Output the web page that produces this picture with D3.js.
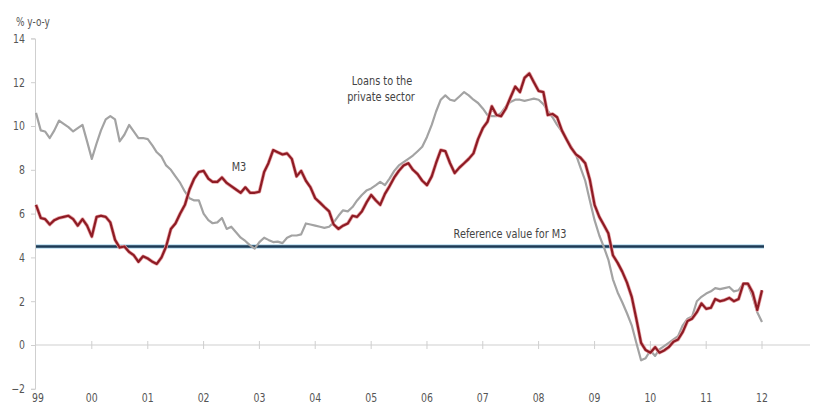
<!DOCTYPE html>
<html>
<head>
<meta charset="utf-8">
<script src="https://cdn.jsdelivr.net/npm/d3@7/dist/d3.min.js"></script>
<style>
  html, body { margin: 0; padding: 0; background: #fff; }
  svg text { font-family: "DejaVu Sans", "Liberation Sans", sans-serif; }
</style>
</head>
<body>
<svg id="chart" width="813" height="410"></svg>
<script>
// Monthly series, January 1999 – January 2012 (% y-o-y)
const startYear = 1999;
const m3Values = [
  6.4, 5.8, 5.75, 5.5, 5.7, 5.8, 5.85, 5.9, 5.75, 5.45, 5.75, 5.45,
  4.95, 5.85, 5.9, 5.85, 5.6, 4.8, 4.45, 4.5, 4.25, 4.1, 3.8, 4.05,
  3.95, 3.8, 3.7, 4.0, 4.5, 5.3, 5.55, 6.0, 6.4, 7.1, 7.6, 7.9,
  7.95, 7.6, 7.45, 7.45, 7.65, 7.4, 7.25, 7.1, 6.95, 7.2, 6.95, 6.95,
  7.0, 7.9, 8.3, 8.9, 8.8, 8.7, 8.75, 8.5, 7.7, 7.95, 7.5, 7.2,
  6.7, 6.5, 6.3, 6.1, 5.5, 5.3, 5.45, 5.55, 5.9, 5.85, 6.1, 6.5,
  6.85, 6.6, 6.4, 6.9, 7.25, 7.65, 7.95, 8.2, 8.3, 8.0, 7.8, 7.5,
  7.3, 7.7, 8.3, 8.9, 8.85, 8.3, 7.85, 8.1, 8.3, 8.5, 8.75, 9.4,
  9.9, 10.2, 10.9, 10.5, 10.45, 10.8, 11.3, 11.8, 11.55, 12.2, 12.4, 12.0,
  11.6, 11.55, 10.5, 10.55, 10.4, 9.8, 9.4, 9.0, 8.7, 8.55, 8.3, 7.55,
  6.4, 5.85, 5.5, 5.1, 4.1, 3.75, 3.35, 2.85, 2.2, 1.2, 0.1, -0.23,
  -0.35, -0.1, -0.35, -0.25, -0.1, 0.15, 0.25, 0.6, 1.1, 1.2, 1.5, 1.9,
  1.65, 1.7, 2.1, 2.0, 2.05, 2.15, 2.0, 2.1, 2.8, 2.8, 2.4, 1.6,
  2.5
];
const loanValues = [
  10.6, 9.8, 9.75, 9.45, 9.8, 10.25, 10.1, 9.95, 9.75, 9.9, 10.05, 9.3,
  8.5, 9.2, 9.8, 10.3, 10.45, 10.3, 9.3, 9.6, 10.05, 9.75, 9.45, 9.45,
  9.4, 9.1, 8.8, 8.6, 8.2, 8.0, 7.7, 7.4, 7.0, 6.7, 6.6, 6.6,
  6.0, 5.7, 5.56, 5.6, 5.8, 5.3, 5.4, 5.15, 4.9, 4.75, 4.55, 4.4,
  4.7, 4.9, 4.8, 4.7, 4.72, 4.65, 4.9, 5.0, 5.0, 5.05, 5.55, 5.5,
  5.45, 5.4, 5.35, 5.4, 5.6, 5.9, 6.15, 6.1, 6.3, 6.6, 6.85, 7.05,
  7.15, 7.3, 7.45, 7.3, 7.6, 7.95, 8.2, 8.35, 8.5, 8.65, 8.85, 9.05,
  9.5, 10.05, 10.65, 11.2, 11.4, 11.2, 11.15, 11.35, 11.55, 11.4, 11.2, 11.05,
  10.8, 10.5, 10.45, 10.45, 10.6, 10.9, 11.1, 11.2, 11.2, 11.15, 11.2, 11.25,
  11.2, 11.0, 10.7, 10.4, 10.05, 9.75, 9.4, 9.05, 8.7, 8.1, 7.5, 6.6,
  5.7, 5.0, 4.5, 3.9, 3.0, 2.4, 1.95, 1.45, 0.9, 0.1, -0.7, -0.6,
  -0.25, -0.5, -0.2, -0.05, 0.1, 0.25, 0.4, 0.9, 1.2, 1.3, 2.0, 2.2,
  2.35, 2.45, 2.6, 2.55, 2.6, 2.65, 2.45, 2.5, 2.8, 2.75, 2.2, 1.5,
  1.05
];
const referenceValue = 4.5;
const yearLabels = ["99", "00", "01", "02", "03", "04", "05", "06", "07", "08", "09", "10", "11", "12"];
const yTicks = [-2, 0, 2, 4, 6, 8, 10, 12, 14];

const svg = d3.select("#chart");

// Narrow lettering: regular glyphs squeezed horizontally
const squeeze = 0.78;
function label(parent, px, py, str, opts = {}) {
  return parent.append("text")
    .attr("transform", `translate(${px},${py}) scale(${squeeze},1)`)
    .attr("text-anchor", opts.anchor || "middle")
    .attr("fill", opts.fill || "#555")
    .attr("font-size", opts.size || 12)
    .text(str);
}

const monthDate = i => new Date(startYear, i, 1);
const x = d3.scaleTime()
  .domain([new Date(1999, 0, 1), new Date(2012, 0, 1)])
  .range([36, 762]);
const y = d3.scaleLinear().domain([-2, 14]).range([388.8, 38.4]);

const axisColor = "#cfcfcf";
const textColor = "#555";

// Y axis (ticks to the left, labels right-aligned)
const yAxis = svg.append("g")
  .attr("transform", "translate(35,0)")
  .call(d3.axisLeft(y).tickValues(yTicks).tickSize(4).tickFormat(d3.format("d")));
yAxis.select(".domain").attr("stroke", axisColor);
yAxis.selectAll(".tick line").attr("stroke", axisColor);
yAxis.selectAll(".tick text")
  .attr("x", 0)
  .attr("transform", `translate(-10,0) scale(${squeeze},1)`)
  .attr("fill", textColor)
  .attr("font-size", 12);

label(svg, 16, 26, "% y-o-y", { anchor: "start", size: 11.5 });

// Zero line with year ticks crossing it
const years = d3.range(startYear, startYear + yearLabels.length).map(yr => new Date(yr, 0, 1));
const zeroAxis = svg.append("g")
  .attr("transform", `translate(0,${y(0)})`);
zeroAxis.append("line")
  .attr("x1", 35).attr("x2", 810)
  .attr("stroke", axisColor);
zeroAxis.selectAll("line.tk")
  .data(years.slice(1))
  .join("line")
  .attr("class", "tk")
  .attr("x1", d => x(d)).attr("x2", d => x(d))
  .attr("y1", -4).attr("y2", 4)
  .attr("stroke", axisColor);

// Year labels along the bottom
const xLabels = svg.append("g");
years.forEach((d, i) => {
  label(xLabels, x(d) + (i === 0 ? 2 : 0), 402, yearLabels[i], { size: 12 });
});

// Reference value line
svg.append("line")
  .attr("x1", x(monthDate(0))).attr("x2", x(monthDate(m3Values.length - 1)) + 2)
  .attr("y1", y(referenceValue)).attr("y2", y(referenceValue))
  .attr("stroke", "#b9dcef").attr("stroke-width", 4.5);
svg.append("line")
  .attr("x1", x(monthDate(0))).attr("x2", x(monthDate(m3Values.length - 1)) + 2)
  .attr("y1", y(referenceValue)).attr("y2", y(referenceValue))
  .attr("stroke", "#1d3a55").attr("stroke-width", 2.6);

const line = d3.line()
  .x((d, i) => x(monthDate(i)))
  .y(d => y(d));

// Loans to the private sector
svg.append("path")
  .datum(loanValues)
  .attr("fill", "none")
  .attr("stroke", "#a3a3a3")
  .attr("stroke-width", 2.2)
  .attr("stroke-linejoin", "round")
  .attr("d", line);

// M3
svg.append("path")
  .datum(m3Values)
  .attr("fill", "none")
  .attr("stroke", "#e7a3a6")
  .attr("stroke-width", 3.6)
  .attr("stroke-linejoin", "round")
  .attr("d", line);
svg.append("path")
  .datum(m3Values)
  .attr("fill", "none")
  .attr("stroke", "#8e1b24")
  .attr("stroke-width", 2.2)
  .attr("stroke-linejoin", "round")
  .attr("d", line);

// Annotations
const ann = svg.append("g");
label(ann, 239, 171, "M3", { fill: "#444", size: 12.5 });
label(ann, 382, 85, "Loans to the", { fill: "#444", size: 12.5 });
label(ann, 381, 101, "private sector", { fill: "#444", size: 12.5 });
label(ann, 510, 238, "Reference value for M3", { fill: "#444", size: 12.5 });
</script>
</body>
</html>
